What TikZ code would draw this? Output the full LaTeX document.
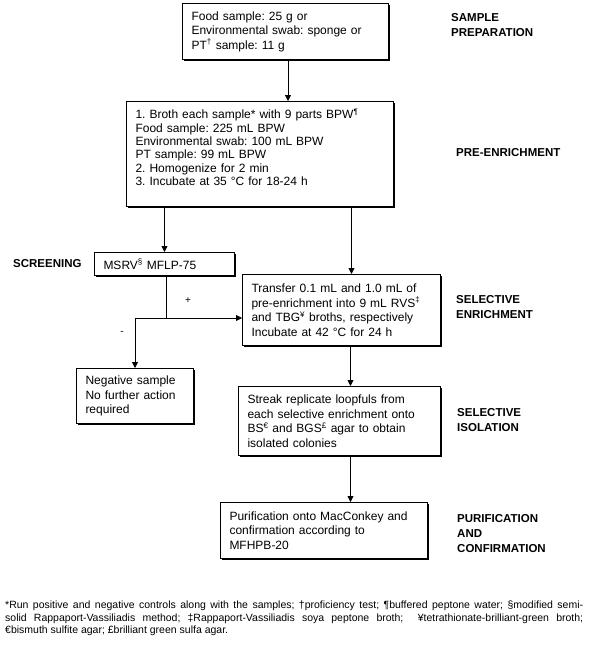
\documentclass[tikz,border=0pt]{standalone}
\usepackage{fontspec}
\setmainfont{Liberation Sans}
\usetikzlibrary{arrows.meta,shadows}
\frenchspacing

\tikzset{
    box/.style={draw, line width=1pt, fill=white, anchor=north west, align=left,
        inner xsep=9pt, inner ysep=2pt, font=\fontsize{12}{14.5}\selectfont,
        drop shadow={shadow xshift=1pt, shadow yshift=-1pt, opacity=1, fill=black}},
    stage/.style={anchor=north west, align=left, inner sep=0pt,
        font=\fontsize{11.5}{15}\selectfont\bfseries},
    arr/.style={-{Triangle[width=6pt,length=6pt]}, line width=0.8pt}
}

\begin{document}
\begin{tikzpicture}[x=1pt,y=-1pt]
    \useasboundingbox (0,0) rectangle (592,645);
    % Boxes
        \node[box, text width=188pt, minimum height=56pt] (prep) at (182,3)
            {Food sample: 25 g or\\Environmental swab: sponge or\\PT\textsuperscript{†} sample: 11 g};
        \node[box, text width=249pt, minimum height=105pt, font=\fontsize{12}{13.4}\selectfont] (pre) at (126,101)
            {1. Broth each sample* with 9 parts BPW\textsuperscript{¶}\\Food sample: 225 mL BPW\\Environmental swab: 100 mL BPW\\PT sample: 99 mL BPW\\2. Homogenize for 2 min\\3. Incubate at 35 °C for 18-24 h\\ \mbox{}};
        \node[box, text width=122pt, minimum height=23pt] (screen) at (94,252)
            {MSRV\textsuperscript{§} MFLP-75};
        \node[box, text width=180pt, minimum height=71pt] (enrich) at (242,274)
            {Transfer 0.1 mL and 1.0 mL of\\pre-enrichment into 9 mL RVS\textsuperscript{‡}\\and TBG\textsuperscript{¥} broths, respectively\\Incubate at 42 °C for 24 h};
        \node[box, text width=99pt, minimum height=55pt] (neg) at (76,368)
            {Negative sample\\No further action\\required};
        \node[box, text width=184pt, minimum height=69pt] (isol) at (238,386)
            {Streak replicate loopfuls from\\each selective enrichment onto\\BS\textsuperscript{€} and BGS\textsuperscript{£} agar to obtain\\isolated colonies};
        \node[box, text width=189pt, minimum height=56pt] (purif) at (220,502)
            {Purification onto MacConkey and\\confirmation according to\\MFHPB-20};
    % Arrows
        \coordinate (split) at (166,318);
        \coordinate (turn) at (neg.north |- split);
        \draw[arr] (prep.south -| 288,0) -- (pre.north -| 288,0);
        \draw[arr] (screen.north |- pre.south) -- (screen.north);
        \draw[arr] ([xshift=10pt]enrich.north |- pre.south) -- ([xshift=10pt]enrich.north);
        \draw[line width=0.8pt] (split |- screen.south) -- (split) -- (turn);
        \draw[arr] (split) -- (split -| enrich.west);
        \draw[arr] (turn) -- (neg.north);
        \draw[arr] ([xshift=9pt]enrich.south) -- ([xshift=9pt]enrich.south |- isol.north);
        \draw[arr] ([xshift=9pt]enrich.south |- isol.south) -- ([xshift=9pt]enrich.south |- purif.north);
        \node (plus) at (188,301) {+};
        \node (minus) at (122,333) {-};
    % Labels
        \node[stage, anchor=west] (screening) at (13,264) {SCREENING};
        \foreach \x/\y/\name in {451/13/{SAMPLE\\PREPARATION}, 456/148/{PRE-ENRICHMENT},
                456/295/{SELECTIVE\\ENRICHMENT}, 457/408/{SELECTIVE\\ISOLATION},
                457/514/{PURIFICATION\\AND\\CONFIRMATION}}{
            \node[stage] (stage-\y) at (\x,\y) {\name};
        }
    % Notes
        \node[anchor=north west, text width=578pt, align=justify, inner sep=0pt,
            font=\fontsize{10.5}{12.5}\selectfont] (notes) at (5,601)
            {*Run positive and negative controls along with the samples; †proficiency test; ¶buffered peptone water; §modified semi-\linebreak solid Rappaport-Vassiliadis method; ‡Rappaport-Vassiliadis soya peptone broth; \ ¥tetrathionate-brilliant-green broth;\linebreak €bismuth sulfite agar; £brilliant green sulfa agar.};
\end{tikzpicture}
\end{document}
